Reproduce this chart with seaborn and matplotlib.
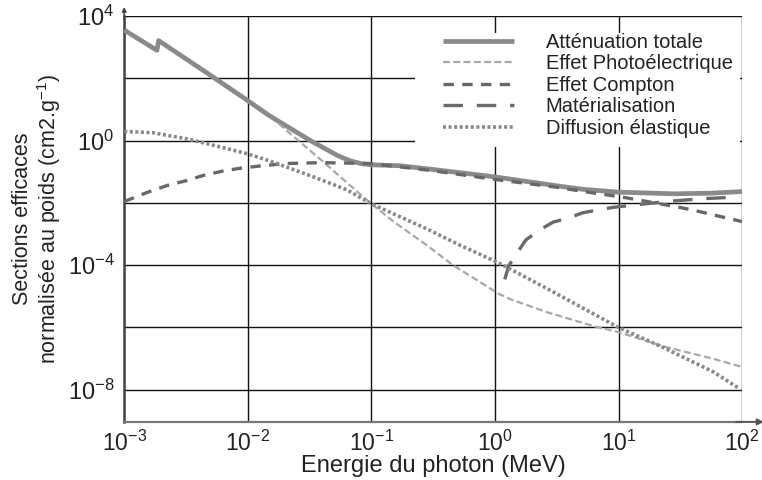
import numpy as np
import pandas as pd
import matplotlib
matplotlib.use("Agg")
import matplotlib.pyplot as plt
from matplotlib.patches import Rectangle
import seaborn as sns

# ---------------- data ----------------
total_E = [1.0e-3, 1.84e-3, 1.9e-3, 5.0e-3, 1.0e-2, 1.5e-2, 3.2e-2, 4.2e-2, 5.4e-2,
           6.8e-2, 8.3e-2, 1.0e-1, 1.7e-1, 3.2e-1, 1.0, 3.2, 5.2, 10.0, 28.0, 56.0, 100.0]
total_mu = [3.5e3, 7.8e2, 1.6e3, 1.23e2, 19.0, 6.2, 1.0, 0.55, 0.32,
            0.22, 0.18, 0.166, 0.155, 0.117, 0.068, 0.035, 0.027, 0.022, 0.0195, 0.0204, 0.023]

photo_E = [0.0178, 0.0219, 0.0407, 0.0676, 0.1, 0.151, 0.282, 0.457, 0.724, 1.05,
           1.35, 2.63, 6.31, 10.0, 22.9, 58.9, 100.0]
photo_mu = [3.47, 1.70, 0.209, 0.0355, 9.3e-3, 2.5e-3, 4.3e-4, 1.0e-4, 3.2e-5, 1.26e-5,
            7.9e-6, 3.1e-6, 1.1e-6, 7.1e-7, 2.5e-7, 9.8e-8, 5.4e-8]

compton_E = [1.0e-3, 1.55e-3, 2.24e-3, 3.24e-3, 4.37e-3, 6.31e-3, 8.71e-3, 1.23e-2, 2.0e-2,
             3.98e-2, 0.1, 0.316, 1.0, 3.16, 5.25, 10.5, 15.1, 30.9, 43.7, 61.7, 100.0]
compton_mu = [0.011, 0.0219, 0.0363, 0.0525, 0.0759, 0.105, 0.129, 0.151, 0.182,
              0.195, 0.182, 0.107, 0.0562, 0.0316, 0.0229, 0.0155, 0.012, 7.2e-3, 5.4e-3, 3.9e-3, 2.5e-3]

pair_E = [1.2, 1.29, 1.55, 1.78, 2.34, 2.95, 3.98, 5.13, 7.24, 9.12, 12.6, 25.7, 46.8, 95.5]
pair_mu = [3.5e-5, 9.5e-5, 2.9e-4, 6.5e-4, 1.41e-3, 2.4e-3, 3.3e-3, 4.8e-3, 6.2e-3,
           7.2e-3, 8.3e-3, 0.0112, 0.0135, 0.0155]

elastic_E = [1.0e-3, 1.7e-3, 3.24e-3, 6.03e-3, 1.0e-2, 1.51e-2, 3.16e-2, 6.31e-2, 0.1,
             0.282, 0.525, 1.05, 2.63, 10.0, 22.9, 58.9, 95.5]
elastic_mu = [1.95, 1.78, 1.12, 0.617, 0.372, 0.219, 0.0759, 0.0263, 9.3e-3,
              1.45e-3, 4.3e-4, 1.23e-4, 1.78e-5, 1.0e-6, 2.3e-7, 3.7e-8, 1.07e-8]

series_names = ["Atténuation totale", "Effet Photoélectrique", "Effet Compton",
                "Matérialisation", "Diffusion élastique"]

x_ticks = [1e-3, 1e-2, 1e-1, 1e0, 1e1, 1e2]
x_tick_labels = ["-3", "-2", "-1", "0", "1", "2"]
y_ticks = [1e4, 1e2, 1e0, 1e-2, 1e-4, 1e-6, 1e-8]
y_tick_labels = ["4", "", "0", "", "-4", "", "-8"]

# ---------------- styling ----------------
sns.set_theme(style="white")
plt.rcParams["font.family"] = ["Liberation Sans", "DejaVu Sans"]
plt.rcParams["lines.scale_dashes"] = False

frames = []
for name, E, mu in zip(series_names,
                       [total_E, photo_E, compton_E, pair_E, elastic_E],
                       [total_mu, photo_mu, compton_mu, pair_mu, elastic_mu]):
    frames.append(pd.DataFrame({"E": E, "mu": mu, "serie": name}))
df = pd.concat(frames, ignore_index=True)

styles = {
    "Atténuation totale":   dict(color="#8a8a8a", lw=3.4, ls="-"),
    "Effet Photoélectrique": dict(color="#a8a8a8", lw=1.6, ls=(0, (5, 2.4))),
    "Effet Compton":        dict(color="#686868", lw=2.4, ls=(0, (7.5, 6))),
    "Matérialisation":      dict(color="#6a6a6a", lw=2.4, ls=(0, (14, 10))),
    "Diffusion élastique":  dict(color="#8a8a8a", lw=2.6, ls=(0, (2.2, 1.8))),
}

fig = plt.figure(figsize=(7.62, 4.80), dpi=100)
ax = fig.add_axes([0.163, 0.121, 0.811, 0.846])

for name in series_names:
    st = styles[name]
    sub = df[df["serie"] == name]
    sns.lineplot(data=sub, x="E", y="mu", ax=ax, color=st["color"], lw=st["lw"],
                 linestyle=st["ls"], label=name, estimator=None, sort=False,
                 dash_capstyle="butt", solid_capstyle="butt", zorder=3)

ax.set_xscale("log")
ax.set_yscale("log")
ax.set_xlim(1e-3, 1e2)
ax.set_ylim(10 ** -9.03, 1e4)

ax.set_xticks(x_ticks)
ax.set_xticklabels([r"$\mathregular{10^{%s}}$" % s for s in x_tick_labels])
ax.set_yticks(y_ticks)
ax.set_yticklabels([(r"$\mathregular{10^{%s}}$" % s) if s else "" for s in y_tick_labels])
ax.minorticks_off()
ax.tick_params(axis="x", length=0, pad=6, labelsize=16.5, colors="#222222")
ax.tick_params(axis="y", length=6, width=1.0, direction="out", pad=1,
               labelsize=17, colors="#222222")
ax.tick_params(axis="y", color="#111111")

ax.grid(True, which="major", color="#111111", lw=1.0)
ax.set_axisbelow(True)

# white background behind the legend (hides the grid there)
ax.add_patch(Rectangle((0.471, 0.677), 0.526, 0.281, transform=ax.transAxes,
                       facecolor="white", edgecolor="none", zorder=1.5))

for s in ["top", "right"]:
    ax.spines[s].set_visible(False)
ax.spines["left"].set_color("#444444")
ax.spines["left"].set_linewidth(1.8)
ax.spines["bottom"].set_color("#777777")
ax.spines["bottom"].set_linewidth(1.6)

# axis arrows
ax.annotate("", xy=(1.035, 0), xytext=(0.99, 0), xycoords="axes fraction",
            arrowprops=dict(arrowstyle="-|>", color="#555555", lw=1.4,
                            mutation_scale=9, shrinkA=0, shrinkB=0))
ax.annotate("", xy=(0, 1.022), xytext=(0, 0.99), xycoords="axes fraction",
            arrowprops=dict(arrowstyle="-|>", color="#444444", lw=1.2,
                            mutation_scale=6, shrinkA=0, shrinkB=0))

ax.set_xlabel("Energie du photon (MeV)", fontsize=17, color="#222222", labelpad=0)
ax.set_ylabel("Sections efficaces\nnormalisée au poids (cm2.g$\\mathregular{^{-1}}$)",
              fontsize=15.5, color="#222222", labelpad=3, linespacing=1.1)

leg = ax.legend(loc="upper left", bbox_to_anchor=(0.516, 0.958), frameon=False,
                fontsize=14.5, handlelength=3.5, handletextpad=1.6,
                labelspacing=0.12, borderpad=0.0, borderaxespad=0.0)
for t in leg.get_texts():
    t.set_color("#222222")

fig.savefig("out.png", dpi=100)
